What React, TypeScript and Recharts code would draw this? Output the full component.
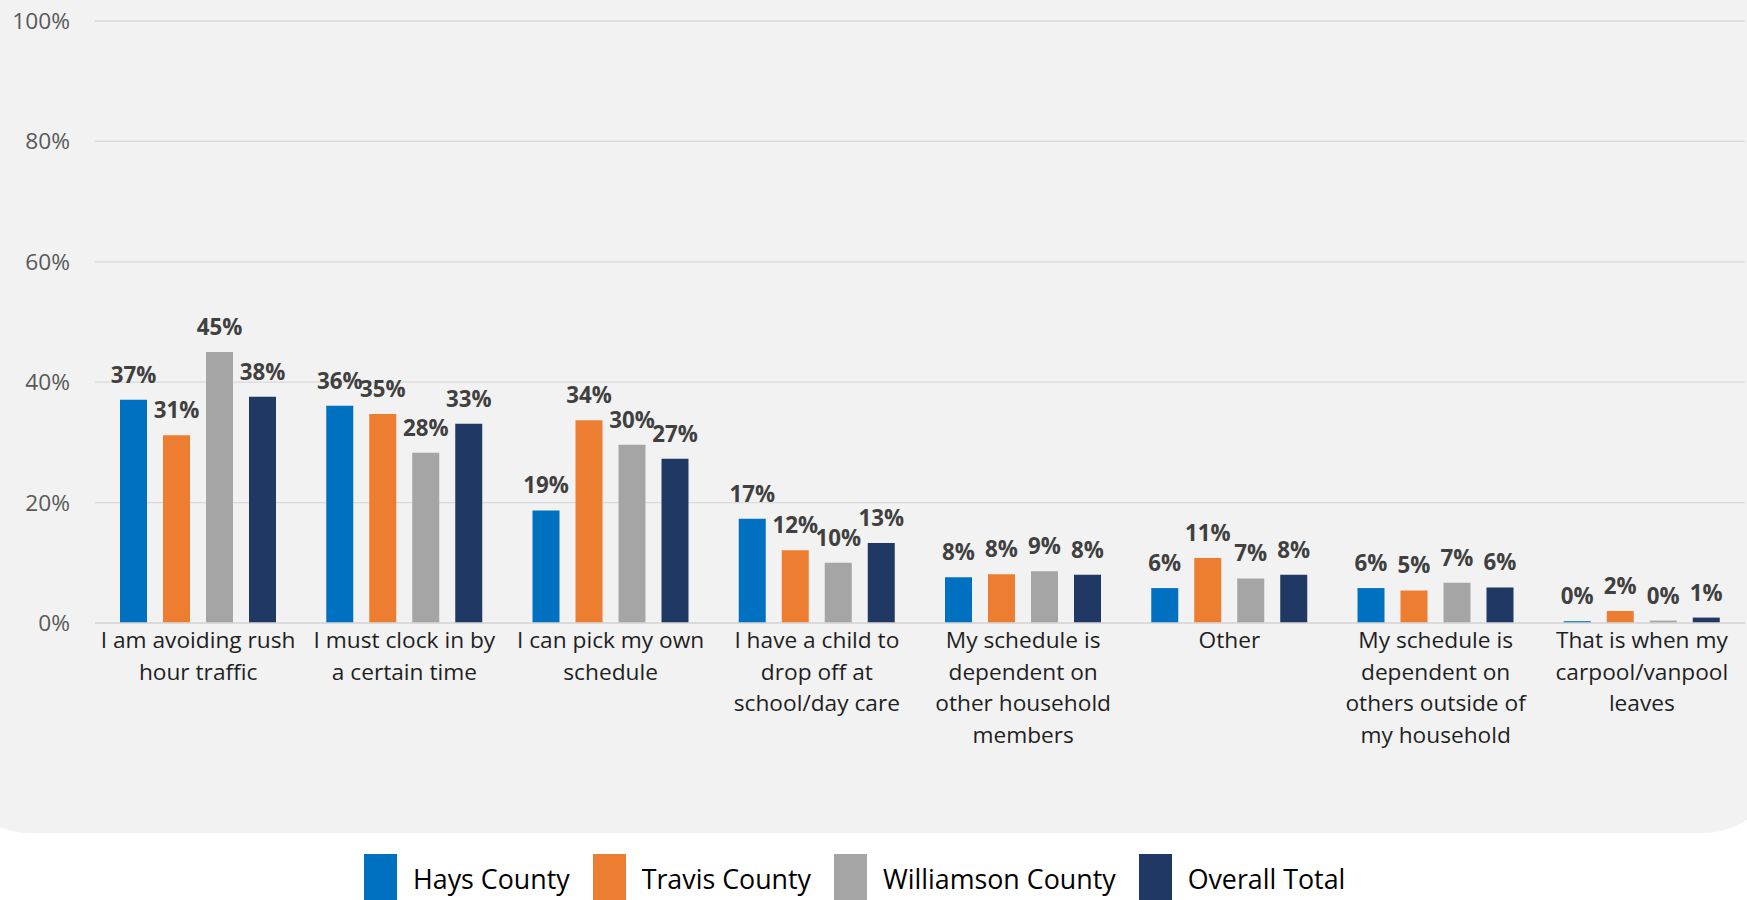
import React from 'react';
import { BarChart, Bar, XAxis, YAxis, CartesianGrid, LabelList } from 'recharts';

// categories, line breaks as in the original axis labels
const categories = [
  'I am avoiding rush\nhour traffic',
  'I must clock in by\na certain time',
  'I can pick my own\nschedule',
  'I have a child to\ndrop off at\nschool/day care',
  'My schedule is\ndependent on\nother household\nmembers',
  'Other',
  'My schedule is\ndependent on\nothers outside of\nmy household',
  'That is when my\ncarpool/vanpool\nleaves',
];

const hays = [37.1, 36.1, 18.7, 17.3, 7.6, 5.8, 5.8, 0.3];
const travis = [31.2, 34.7, 33.7, 12.1, 8.1, 10.8, 5.4, 2.0];
const williamson = [45.0, 28.3, 29.6, 10.0, 8.6, 7.4, 6.7, 0.4];
const overall = [37.6, 33.1, 27.3, 13.3, 8.0, 8.0, 5.9, 0.9];

const yTicks = [0, 20, 40, 60, 80, 100];

const series = [
  { key: 'hays', name: 'Hays County', color: '#0070C0' },
  { key: 'travis', name: 'Travis County', color: '#ED7D31' },
  { key: 'williamson', name: 'Williamson County', color: '#A5A5A5' },
  { key: 'overall', name: 'Overall Total', color: '#203864' },
];

const data = categories.map((category, i) => ({
  category,
  hays: hays[i],
  travis: travis[i],
  williamson: williamson[i],
  overall: overall[i],
}));

const FONT = '"Open Sans", sans-serif';

const CategoryTick = (props: any) => {
  const { x, y, payload } = props;
  const lines = String(payload.value).split('\n');
  return (
    <text x={x} y={y} textAnchor="middle" fill="#1f1f1f" fontSize={22.7} fontFamily={FONT}>
      {lines.map((line, i) => (
        <tspan key={i} x={x} dy={i === 0 ? 25 : 31.7}>
          {line}
        </tspan>
      ))}
    </text>
  );
};

const App: React.FC = () => {
  return (
    <div
      style={{
        position: 'fixed',
        left: 0,
        top: 0,
        width: 1747,
        height: 900,
        overflow: 'hidden',
        background: '#ffffff',
        fontFamily: FONT,
      }}
    >
      <div
        style={{
          position: 'absolute',
          left: -50,
          top: -80,
          width: 1747 + 86,
          height: 833 + 80,
          background: '#f2f2f2',
          borderRadius: 80,
        }}
      />
      <div style={{ position: 'absolute', left: 0, top: 0 }}>
        <BarChart
          width={1747}
          height={833}
          data={data}
          margin={{ top: 21, right: 2, left: 0, bottom: 0 }}
          barGap={16}
          barSize={27}
        >
          <CartesianGrid vertical={false} stroke="#d9d9d9" strokeWidth={1.3} />
          <XAxis
            dataKey="category"
            interval={0}
            height={210}
            tickLine={false}
            tickSize={0}
            tickMargin={0}
            axisLine={{ stroke: '#d9d9d9', strokeWidth: 1.3 }}
            tick={<CategoryTick />}
          />
          <YAxis
            width={95}
            domain={[0, 100]}
            ticks={yTicks}
            interval={0}
            axisLine={false}
            tickLine={false}
            tickSize={6}
            tickMargin={19}
            tickFormatter={(v: number) => `${v}%`}
            tick={{ fill: '#595959', fontSize: 22.7, fontFamily: FONT }}
          />
          {series.map((s) => (
            <Bar key={s.key} dataKey={s.key} name={s.name} fill={s.color} isAnimationActive={false}>
              <LabelList
                dataKey={s.key}
                position="top"
                offset={17}
                formatter={(v: any) => `${Math.round(Number(v))}%`}
                style={{ fill: '#404040', fontWeight: 700, fontSize: 22.3, fontFamily: FONT }}
              />
            </Bar>
          ))}
        </BarChart>
      </div>
      <div
        style={{
          position: 'absolute',
          top: 854,
          left: 364,
          display: 'flex',
          alignItems: 'center',
        }}
      >
        {series.map((s) => (
          <div key={s.key} style={{ display: 'flex', alignItems: 'center', marginRight: 23 }}>
            <div style={{ width: 33, height: 50, background: s.color }} />
            <span style={{ marginLeft: 16, fontSize: 26.8, color: '#000000', lineHeight: '50px' }}>
              {s.name}
            </span>
          </div>
        ))}
      </div>
    </div>
  );
};

export default App;
